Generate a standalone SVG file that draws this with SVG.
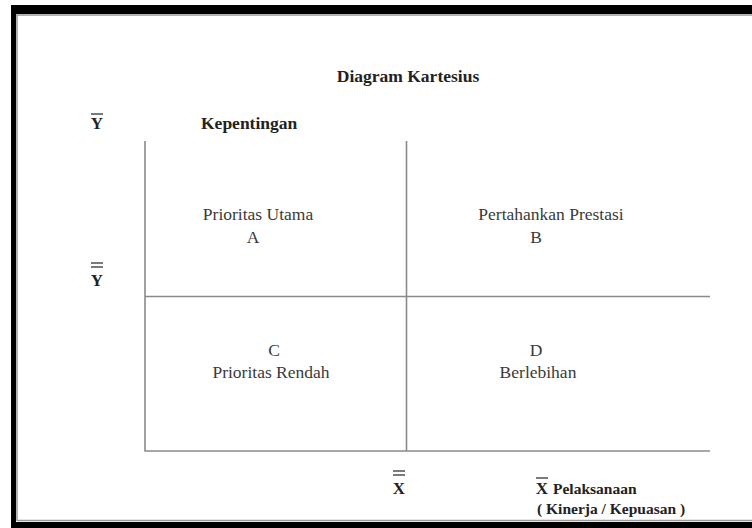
<svg xmlns="http://www.w3.org/2000/svg" width="752" height="528" viewBox="0 0 752 528">
<style>
.t{font-family:"Liberation Serif","Times New Roman",serif;fill:#3a3a3a;font-size:17.5px;text-anchor:middle}
.b{font-family:"Liberation Serif","Times New Roman",serif;fill:#222;font-weight:bold}
.ax{stroke:#8a8a8a;stroke-width:1.6;fill:none}
.bar{stroke:#333;stroke-width:1.3}
</style>
<rect width="752" height="528" fill="#fff"/>
<g id="frame">
<path d="M11 5H752V14H16V522H752V528H11Z" fill="#000"/>
<path d="M16 15H752M17 15V521M17 520.5H752" stroke="#9a9a9a" stroke-width="1.5" fill="none"/>
</g>
<g id="title"><text class="b" x="408" y="82" font-size="17.5" text-anchor="middle">Diagram Kartesius</text></g>
<g id="axis-labels">
<text class="b" x="97" y="129" font-size="17" text-anchor="middle">Y</text>
<line class="bar" x1="91" y1="114" x2="103" y2="114"/>
<text class="b" x="201" y="129" font-size="17.5">Kepentingan</text>
<text class="b" x="97" y="286" font-size="17" text-anchor="middle">Y</text>
<line class="bar" x1="91" y1="263" x2="103" y2="263"/>
<line class="bar" x1="91" y1="267" x2="103" y2="267"/>
<text class="b" x="399" y="494" font-size="17" text-anchor="middle">X</text>
<line class="bar" x1="393" y1="471" x2="405" y2="471"/>
<line class="bar" x1="393" y1="475" x2="405" y2="475"/>
<text class="b" x="542" y="494" font-size="17" text-anchor="middle">X</text>
<line class="bar" x1="536" y1="478" x2="548" y2="478"/>
<text class="b" x="553" y="494" font-size="15.5">Pelaksanaan</text>
<text class="b" x="537" y="514" font-size="15.5">( Kinerja / Kepuasan )</text>
</g>
<g id="connectors">
<path class="ax" d="M145 141V451H710M145 296.5H710M406.5 141V451"/>
</g>
<g id="quadrant-A"><text class="t" x="258" y="220">Prioritas Utama</text><text class="t" x="253" y="243">A</text></g>
<g id="quadrant-B"><text class="t" x="551" y="220">Pertahankan Prestasi</text><text class="t" x="536" y="243">B</text></g>
<g id="quadrant-C"><text class="t" x="274" y="356">C</text><text class="t" x="271" y="378">Prioritas Rendah</text></g>
<g id="quadrant-D"><text class="t" x="536" y="356">D</text><text class="t" x="538" y="378">Berlebihan</text></g>
</svg>
